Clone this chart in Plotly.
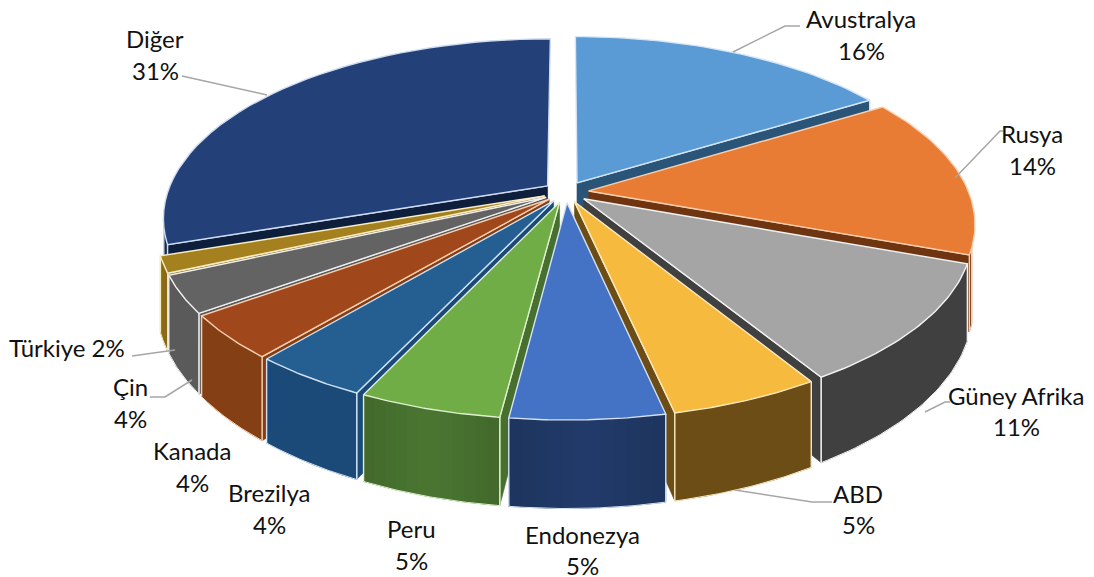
import math
import plotly.graph_objects as go

names = ["Avustralya", "Rusya", "Güney Afrika", "ABD", "Endonezya", "Peru", "Brezilya", "Kanada", "Çin", "Türkiye", "Diğer"]
values = [16.2, 14.4, 10.7, 5.3, 5.4, 5.0, 4.1, 3.9, 3.3, 1.5, 30.2]
top_colors = ["#5b9bd5", "#e97c35", "#a5a5a5", "#f6bb3e", "#4472c4", "#70ad47", "#255e91", "#a0481c", "#636363", "#a5801e", "#234178"]
side_colors = ["#2a5578", "#6f3510", "#404040", "#6b4d15", "#203864", "#47702f", "#1b4a78", "#853f15", "#5a5a5a", "#8a6a15", "#14284a"]
edge_colors = ["#d6e6f5", "#f8cfb0", "#f2f2f2", "#fbe9c0", "#d6e2f5", "#e0f0d0", "#cfe2f5", "#f8cfb0", "#f0f0f0", "#f8eec8", "#d0dcf0"]
label_lines = [("Avustralya", 861, 18), ("16%", 861, 50), ("Rusya", 1032, 133), ("14%", 1032, 165),
               ("Güney Afrika", 1016, 395), ("11%", 1016, 426), ("ABD", 858, 493), ("5%", 858, 524),
               ("Endonezya", 582, 534), ("5%", 582, 565), ("Peru", 411, 528), ("5%", 411, 560),
               ("Brezilya", 269, 492), ("4%", 269, 524), ("Kanada", 192, 450), ("4%", 192, 482),
               ("Çin", 130, 386), ("4%", 130, 418), ("Türkiye 2%", 67, 347), ("Diğer", 155, 38), ("31%", 155, 70)]
leader_x = [[733, 785, 800], [955, 1000, 1003], [925, 945, 950], [735, 812, 832], [175, 132], [192, 165, 150], [267, 182]]
leader_y = [[52, 26, 26], [178, 131, 131], [412, 402, 402], [490, 502, 502], [350, 356], [380, 397, 397], [95, 76]]

CX, CY, RX, RY, K, HEIGHT, PULL = 566, 192, 380, 175, 0.176, 72, 0.06
WALL_FROM, WALL_TO = 108, 262

fig = go.Figure()

def project(mx, mz, drop=False):
    s = 1 / (1 - K * mz)
    return CX + RX * mx * s, CY + RY * mz * s + (HEIGHT * s if drop else 0)

def polar(a, r, mid):
    ar, mr = math.radians(a), math.radians(mid)
    return PULL * math.sin(mr) + r * math.sin(ar), -PULL * math.cos(mr) - r * math.cos(ar)

def poly(points, color, line=None, width=0.6):
    xs = [p[0] for p in points] + [points[0][0]]
    ys = [p[1] for p in points] + [points[0][1]]
    fig.add_trace(go.Scatter(x=xs, y=ys, mode="lines", fill="toself", fillcolor=color,
                             line=dict(color=line or color, width=width), hoverinfo="skip", showlegend=False))

def stroke(points, color, width=1.6):
    fig.add_trace(go.Scatter(x=[p[0] for p in points], y=[p[1] for p in points], mode="lines",
                             line=dict(color=color, width=width), hoverinfo="skip", showlegend=False))

def shade(hex_color, f):
    r, g, b = [int(hex_color[i:i + 2], 16) for i in (1, 3, 5)]
    return "rgb(%d,%d,%d)" % (min(255, r * f), min(255, g * f), min(255, b * f))

total = sum(values)
spans = []
acc = 0
for v in values:
    spans.append((acc / total * 360, (acc + v) / total * 360))
    acc += v

def arc(a0, a1, mid, n=40):
    return [polar(a0 + (a1 - a0) * i / n, 1, mid) for i in range(n + 1)]

def draw(i):
    a0, a1 = spans[i]
    mid = (a0 + a1) / 2
    apex = polar(0, 0, mid)
    cut = a1 if mid < 178 else a0
    rim = polar(cut, 1, mid)
    if i != 4:
        pts = [project(*apex), project(*rim), project(*rim, True), project(*apex, True)]
        poly(pts, side_colors[i] if i != 10 else "#0e1f3d")
        stroke(pts[:2], edge_colors[i], 1.2)
        stroke(pts[1:3], edge_colors[i], 1.2)
    lo, hi = max(a0, WALL_FROM), min(a1, WALL_TO)
    if hi > lo:
        wall = [project(*p) for p in arc(lo, hi, mid)] + [project(*p, True) for p in reversed(arc(lo, hi, mid))]
        poly(wall, side_colors[i])
        if i in (4, 5):
            # soft gradient: darker toward both ends, overlapping bands leave no seams
            n = 12
            for j in range(n):
                b0 = lo + (hi - lo) * j / n
                b1 = lo + (hi - lo) * min(n, j + 2) / n
                f = 1.06 - 0.12 * abs((j + 0.5) / n - 0.5) * 2
                band = [project(*p) for p in arc(b0, b1, mid, 4)] + [project(*p, True) for p in reversed(arc(b0, b1, mid, 4))]
                poly(band, shade(side_colors[i], f), width=0)
        stroke([project(*polar(lo, 1, mid)), project(*polar(lo, 1, mid), True)], edge_colors[i], 1.4)
        stroke([project(*polar(hi, 1, mid)), project(*polar(hi, 1, mid), True)], edge_colors[i], 1.4)
        stroke([project(*p, True) for p in arc(lo, hi, mid)], edge_colors[i], 1.0)
    pts = [project(*apex)] + [project(*p) for p in arc(a0, a1, mid)]
    poly(pts, top_colors[i], edge_colors[i], 1.4)

for i in [10, 0, 1, 9, 2, 8, 7, 3, 6, 5, 4]:
    draw(i)

for lx, ly in zip(leader_x, leader_y):
    fig.add_trace(go.Scatter(x=lx, y=ly, mode="lines", line=dict(color="#a6a6a6", width=1.5),
                             hoverinfo="skip", showlegend=False))

annotations = [dict(x=x, y=y, text=t, showarrow=False, xanchor="center", yanchor="middle", xref="x", yref="y",
                    font=dict(family="Lato, Open Sans, sans-serif", size=24, color="#111111"))
               for t, x, y in label_lines]

# the page keeps its default 8 px body margin, so the plot area starts at pixel 8
fig.update_layout(
    width=1086, height=569, margin=dict(l=0, r=0, t=0, b=0), paper_bgcolor="white", plot_bgcolor="white",
    showlegend=False, annotations=annotations,
    xaxis=dict(range=[8, 1094], visible=False, fixedrange=True),
    yaxis=dict(range=[577, 8], visible=False, fixedrange=True),
)
fig.write_html("out.html", config={"displayModeBar": False})
